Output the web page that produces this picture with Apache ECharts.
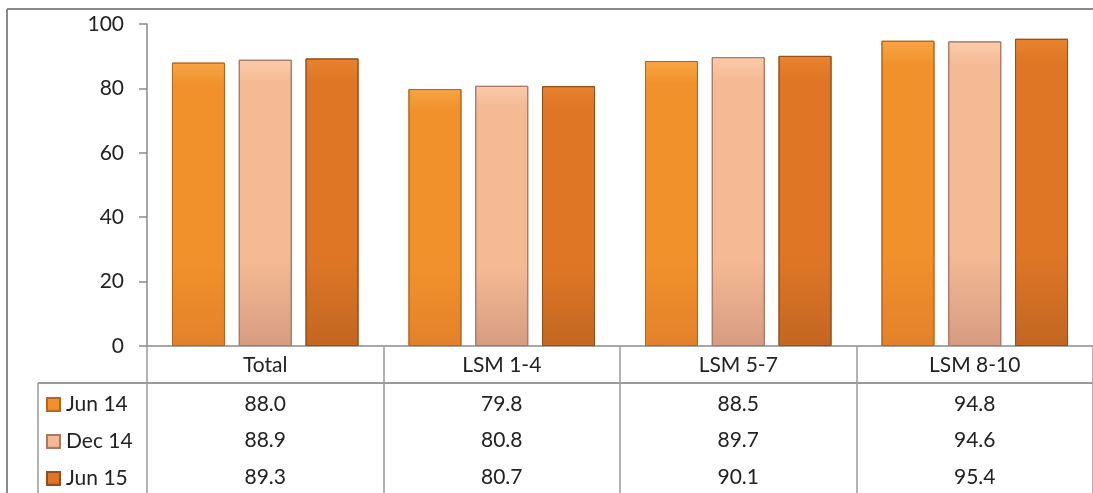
<!DOCTYPE html>
<html>
<head>
<meta charset="utf-8">
<script src="https://cdn.jsdelivr.net/npm/echarts@6/dist/echarts.min.js"></script>
<style>
html,body{margin:0;padding:0;background:#fff;}
#chart{width:1093px;height:493px;}
</style>
</head>
<body>
<div id="chart"></div>
<script>
const categories = ['Total', 'LSM 1-4', 'LSM 5-7', 'LSM 8-10'];
const seriesNames = ['Jun 14', 'Dec 14', 'Jun 15'];
const jun14 = [88.0, 79.8, 88.5, 94.8];
const dec14 = [88.9, 80.8, 89.7, 94.6];
const jun15 = [89.3, 80.7, 90.1, 95.4];
const yTicks = [0, 20, 40, 60, 80, 100];

const seriesData = [jun14, dec14, jun15];
const palettes = [
  {top:'#F8A544', mid:'#F0912C', bot:'#E3812A', border:'#B4661F'},
  {top:'#FCCBAA', mid:'#F5B994', bot:'#D79C80', border:'#A87A66'},
  {top:'#E9832E', mid:'#DE7626', bot:'#C36622', border:'#93501A'}
];
function grad(p){
  return new echarts.graphic.LinearGradient(0,0,0,1,[
    {offset:0,color:p.top},{offset:0.08,color:p.mid},{offset:0.7,color:p.mid},{offset:1,color:p.bot}
  ]);
}
const FONT = 'Lato';
const FS = 21;
const chart = echarts.init(document.getElementById('chart'), null, {renderer:'canvas'});
const GRID = {left:147, top:24, width:948, height:322};
chart.setOption({
  animation:false,
  backgroundColor:'#fff',
  textStyle:{fontFamily:FONT},
  grid:{left:GRID.left, top:GRID.top, width:GRID.width, height:GRID.height, containLabel:false},
  legend:{
    orient:'vertical', left:46, top:394, padding:0, height:110,
    itemWidth:13, itemHeight:13, itemGap:16,
    icon:'rect', selectedMode:false,
    data:seriesNames,
    textStyle:{fontFamily:FONT, fontSize:FS, color:'#222', lineHeight:20, padding:[0,0,0,1]}
  },
  xAxis:{
    type:'category', data:categories,
    axisLine:{show:true, lineStyle:{color:'#8a8a8a', width:1.5}},
    axisTick:{show:true, length:147, lineStyle:{color:'#9a9a9a', width:1.5}},
    axisLabel:{fontFamily:FONT, fontSize:FS, color:'#222', margin:9}
  },
  yAxis:{
    type:'value', min:yTicks[0], max:yTicks[yTicks.length-1], interval:20,
    splitLine:{show:false},
    axisLine:{show:true, lineStyle:{color:'#8a8a8a', width:1.5}},
    axisTick:{show:true, length:8, lineStyle:{color:'#8a8a8a', width:1.5}},
    axisLabel:{fontFamily:FONT, fontSize:FS, color:'#222', margin:23}
  },
  series: seriesNames.map((n,i)=>({
    name:n, type:'bar', data:seriesData[i],
    barWidth:53, barGap:'26%',
    itemStyle:{color:grad(palettes[i]), borderColor:palettes[i].border, borderWidth:1}
  }))
});

// Data table below the axis
const rowY = [404, 440, 477];
const graphics = [
  {type:'line', shape:{x1:7, y1:9, x2:1093, y2:9}, style:{stroke:'#8a8a8a', lineWidth:2}},
  {type:'line', shape:{x1:7, y1:9, x2:7, y2:493}, style:{stroke:'#8a8a8a', lineWidth:2}},
  {type:'line', shape:{x1:38, y1:383, x2:1093, y2:383}, style:{stroke:'#9a9a9a', lineWidth:2}},
  {type:'line', shape:{x1:38, y1:383, x2:38, y2:493}, style:{stroke:'#9a9a9a', lineWidth:1.5}}
];
seriesData.forEach((arr, r)=>{
  arr.forEach((v, c)=>{
    const x = chart.convertToPixel({xAxisIndex:0}, categories[c]);
    graphics.push({
      type:'text', x:x, y:rowY[r],
      style:{text:v.toFixed(1), font:FS + 'px ' + FONT, fill:'#222', align:'center', verticalAlign:'middle'}
    });
  });
});
chart.setOption({graphic:graphics});
</script>
</body>
</html>
